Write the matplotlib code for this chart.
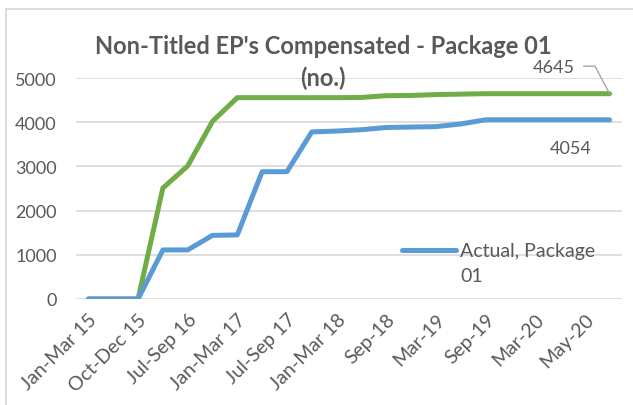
import matplotlib
matplotlib.use("Agg")
import matplotlib.pyplot as plt
from matplotlib.lines import Line2D
from matplotlib.patches import Rectangle
import numpy as np

plt.rcParams['font.family'] = ['Lato', 'DejaVu Sans']

categories = ["Jan-Mar 15", "Apr-Jun 15", "Oct-Dec 15", "Jan-Mar 16", "Jul-Sep 16",
              "Oct-Dec 16", "Jan-Mar 17", "Apr-Jun 17", "Jul-Sep 17", "Oct-Dec 17",
              "Jan-Mar 18", "Jun-18", "Sep-18", "Dec-18", "Mar-19", "Jun-19",
              "Sep-19", "Dec-19", "Mar-20", "Apr-20", "May-20", "Jun-20"]
actual = [0, 0, 0, 1110, 1110, 1440, 1450, 2880, 2880, 3780, 3800, 3830, 3880,
          3890, 3900, 3960, 4054, 4054, 4054, 4054, 4054, 4054]
target = [0, 0, 0, 2510, 3010, 4020, 4555, 4555, 4555, 4555, 4555, 4560, 4600,
          4605, 4625, 4635, 4645, 4645, 4645, 4645, 4645, 4645]
series_names = ["Actual, Package 01", "Target, Package 01"]
title_lines = ["Non-Titled EP's Compensated - Package 01", "(no.)"]
yticks = [0, 1000, 2000, 3000, 4000, 5000]

W, H = 633, 406
fig = plt.figure(figsize=(W / 100, H / 100), dpi=100)
ax = fig.add_axes([76 / W, 1 - 300 / H, (622 - 76) / W, (300 - 79) / H])

TXT = "#595959"
GRID = "#D9D9D9"
x = np.arange(len(categories))

ax.plot(x, target, color="#70AD47", lw=3.6, solid_capstyle="round",
        solid_joinstyle="round", zorder=3)
ax.plot(x, actual, color="#5B9BD5", lw=3.6, solid_capstyle="round",
        solid_joinstyle="round", zorder=4)

ax.set_xlim(-0.5, len(categories) - 0.5)
ax.set_ylim(0, 5000)
ax.set_yticks(yticks)
ax.set_yticklabels([str(v) for v in yticks])
ax.set_xticks(x[::2])
ax.set_xticklabels(categories[::2], rotation=45, ha="right", va="top",
                   rotation_mode="anchor")
ax.tick_params(axis="both", length=0, colors=TXT)
ax.tick_params(axis="y", pad=14, labelsize=13)
ax.tick_params(axis="x", pad=8, labelsize=14)
for s in ax.spines.values():
    s.set_visible(False)
ax.grid(axis="y", color=GRID, lw=1.2, zorder=0)
ax.set_axisbelow(True)

# title (two lines)
fig.text(323 / W, 1 - 47 / H, title_lines[0], ha="center", va="center",
         fontsize=17, fontweight="bold", color=TXT)
fig.text(323 / W, 1 - 78 / H, title_lines[1], ha="center", va="center",
         fontsize=17, fontweight="bold", color=TXT)

# data labels
ax.annotate(str(target[-1]), xy=(x[-1], target[-1]),
            xytext=(554, H - 68), textcoords="figure pixels",
            ha="center", va="center", fontsize=13, color=TXT,
            arrowprops=dict(arrowstyle="-", color="#A6A6A6", lw=1,
                            shrinkA=0, shrinkB=0,
                            connectionstyle="angle,angleA=0,angleB=118,rad=0",
                            relpos=(1.2, 0.55)),
            annotation_clip=False)
ax.annotate(str(actual[-1]), xy=(x[-1], actual[-1]),
            xytext=(571, H - 149), textcoords="figure pixels",
            ha="center", va="center", fontsize=13, color=TXT)

# legend (only actual series shown)
h = Line2D([], [], color="#5B9BD5", lw=3.6, solid_capstyle="round")
leg = ax.legend([h], ["Actual, Package"], loc="center left",
                bbox_to_anchor=(392 / W, 1 - 252 / H),
                bbox_transform=fig.transFigure, frameon=False,
                handlelength=2.8, handletextpad=0.2, borderpad=0,
                fontsize=14, labelcolor=TXT)
fig.text(460 / W, 1 - 277 / H, "01", ha="left", va="center", fontsize=14,
         color=TXT)

# chart border
fig.patches.append(Rectangle((5.5 / W, -0.05), 1.1, 1 - 10 / H + 0.05,
                             transform=fig.transFigure, fill=False,
                             ec=GRID, lw=1.3))

fig.savefig("out.png", dpi=100)
